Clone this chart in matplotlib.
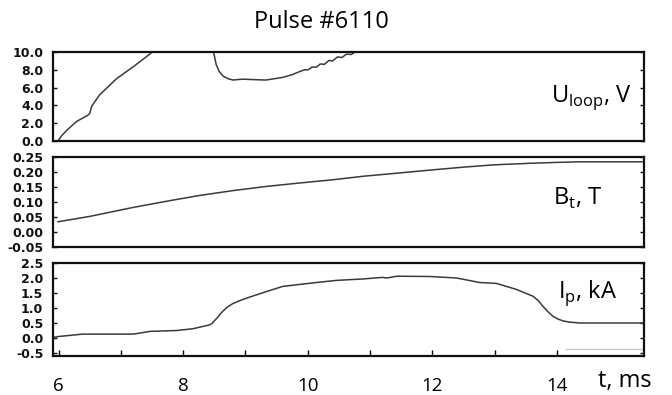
import matplotlib
matplotlib.use("Agg")
import matplotlib.pyplot as plt
import numpy as np
from matplotlib.ticker import FormatStrFormatter, FixedLocator, FuncFormatter

plt.rcParams['axes.unicode_minus'] = False

title = "Pulse #6110"

# Loop voltage (V)
t_u = [5.99, 6.05, 6.13, 6.29, 6.47, 6.50, 6.53, 6.66, 6.93, 7.2, 7.47, 7.55, 7.8, 8.2, 8.47,
       8.50, 8.53, 8.58, 8.64, 8.72, 8.8, 8.95, 9.12, 9.33, 9.6, 9.75, 9.87, 9.95, 10.0,
       10.07, 10.14, 10.2, 10.27, 10.34, 10.4, 10.48, 10.55, 10.62, 10.7, 10.78, 10.9,
       11.5, 15.4]
u_loop = [0.0, 0.6, 1.2, 2.2, 2.9, 3.1, 3.9, 5.2, 7.0, 8.35, 9.8, 10.3, 11.5, 11.5, 10.6,
          9.6, 8.6, 7.8, 7.3, 7.0, 6.85, 6.95, 6.9, 6.85, 7.15, 7.45, 7.8, 8.0, 7.98,
          8.3, 8.3, 8.65, 8.62, 9.05, 9.0, 9.45, 9.38, 9.75, 9.72, 10.1, 10.5,
          11.5, 12.0]

# Toroidal field (T)
t_b = [5.99, 6.5, 7.2, 7.8, 8.27, 8.8, 9.34, 9.9, 10.4, 10.9, 11.43, 12.0, 12.49, 13.0,
       13.57, 14.0, 14.37, 15.0, 15.38]
b_t = [0.034, 0.052, 0.082, 0.105, 0.122, 0.138, 0.152, 0.164, 0.174, 0.186, 0.196,
       0.207, 0.216, 0.224, 0.229, 0.232, 0.234, 0.234, 0.234]

# Plasma current (kA)
t_i = [5.91, 6.0, 6.39, 7.2, 7.47, 7.9, 8.16, 8.43, 8.47, 8.55, 8.63, 8.71, 8.8, 8.9,
       9.02, 9.34, 9.6, 10.14, 10.46, 10.9, 11.2, 11.27, 11.43, 11.96, 12.39, 12.76,
       13.03, 13.35, 13.62, 13.7, 13.78, 13.86, 13.94, 14.02, 14.1, 14.2, 14.37, 15.0, 15.4]
i_p = [0.02, 0.05, 0.13, 0.13, 0.22, 0.25, 0.31, 0.44, 0.5, 0.68, 0.88, 1.03, 1.15, 1.24,
       1.33, 1.55, 1.72, 1.85, 1.92, 1.97, 2.02, 2.0, 2.06, 2.05, 2.0, 1.85,
       1.82, 1.62, 1.39, 1.25, 1.05, 0.87, 0.72, 0.63, 0.57, 0.53, 0.5, 0.5, 0.5]
t_faint = [14.15, 15.38]
i_faint = [-0.36, -0.36]

u_ticks = [0.0, 2.0, 4.0, 6.0, 8.0, 10.0]
b_ticks = [-0.05, 0.0, 0.05, 0.10, 0.15, 0.20, 0.25]
i_ticks = [-0.5, 0.0, 0.5, 1.0, 1.5, 2.0, 2.5]
x_ticks = [6, 7, 8, 9, 10, 11, 12, 13, 14]
x_labels = {6: "6", 8: "8", 10: "10", 12: "12", 14: "14"}

W, H = 672, 395
fig = plt.figure(figsize=(W / 100, H / 100), dpi=100)

L, R = 53 / W, 644 / W
def box(top, bot):
    return [L, 1 - bot / H, R - L, (bot - top) / H]

ax1 = fig.add_axes(box(52, 141))
ax2 = fig.add_axes(box(157, 247))
ax3 = fig.add_axes(box(263, 356))

line_kw = dict(color="#3a3a3a", lw=1.1)
ax1.plot(t_u, u_loop, **line_kw)
ax2.plot(t_b, b_t, **line_kw)
ax3.plot(t_i, i_p, **line_kw)
ax3.plot(t_faint, i_faint, color="#c8c8c8", lw=1.0)

ax1.set_ylim(0, 10)
ax2.set_ylim(-0.05, 0.25)
ax3.set_ylim(-0.6, 2.5)

ax1.set_yticks(u_ticks)
ax2.set_yticks(b_ticks)
ax3.set_yticks(i_ticks)
ax1.yaxis.set_major_formatter(FormatStrFormatter("%.1f"))
ax2.yaxis.set_major_formatter(FormatStrFormatter("%.2f"))
ax3.yaxis.set_major_formatter(FormatStrFormatter("%.1f"))

for ax in (ax1, ax2, ax3):
    ax.set_xlim(5.91, 15.4)
    for s in ax.spines.values():
        s.set_linewidth(1.6)
        s.set_color("#111111")
    ax.tick_params(axis="y", which="both", direction="in", left=True, right=True,
                   length=3, width=1.0, pad=7, labelsize=9, colors="#111111")
    for lab in ax.get_yticklabels():
        lab.set_fontweight("bold")

for ax in (ax1, ax2):
    ax.set_xticks([])

ax3.xaxis.set_major_locator(FixedLocator(x_ticks))
ax3.xaxis.set_major_formatter(FuncFormatter(lambda v, p: x_labels.get(int(round(v)), "")))
ax3.tick_params(axis="x", direction="in", bottom=True, top=False, length=4, width=1.0,
                pad=15, labelsize=13.5)
for lab in ax3.get_xticklabels():
    lab.set_fontfamily("Open Sans")

fig.text(321.5 / W, 1 - 28 / H, title, ha="center", va="baseline",
         fontsize=17, family="Open Sans")
fig.text(632 / W, 1 - 101.7 / H, r"U$_{\mathregular{loop}}$, V", ha="right",
         va="baseline", fontsize=17, family="Open Sans")
fig.text(602 / W, 1 - 205 / H, r"B$_{\mathregular{t}}$, T", ha="right",
         va="baseline", fontsize=17, family="Open Sans")
fig.text(617 / W, 1 - 298.3 / H, r"I$_{\mathregular{p}}$, kA", ha="right",
         va="baseline", fontsize=17, family="Open Sans")
fig.text(652 / W, 1 - 386.7 / H, "t, ms", ha="right", va="baseline",
         fontsize=17, family="Open Sans")

fig.savefig("out.png", dpi=100)
